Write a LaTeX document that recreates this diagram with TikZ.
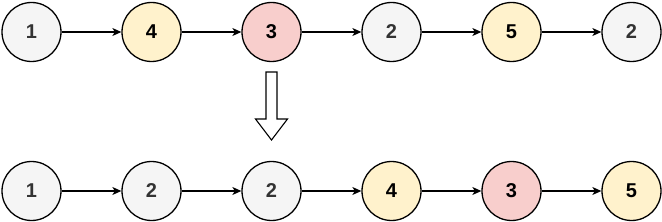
\documentclass[tikz,border=0pt]{standalone}
\usepackage{fontspec}
\setmainfont{Liberation Sans}
\usetikzlibrary{arrows.meta}
\definecolor{gfill}{HTML}{F5F5F5}
\definecolor{yfill}{HTML}{FFF2CC}
\definecolor{rfill}{HTML}{F8CECC}
\definecolor{gtext}{HTML}{333333}
\newcommand{\digfont}{\fontsize{20pt}{24pt}\selectfont\bfseries}
\tikzset{
  nd/.style={circle,draw=black,line width=1.3pt,minimum size=59pt,inner sep=0pt,
    font=\digfont},
  gnode/.style={nd,fill=gfill,text=gtext},
  ynode/.style={nd,fill=yfill,text=black},
  rnode/.style={nd,fill=rfill,text=black},
  link/.style={line width=1.1pt,-{Stealth[length=9pt,width=8pt,inset=2.5pt]}},
}
\begin{document}
\begin{tikzpicture}[x=1pt,y=-1pt]
\useasboundingbox (0,0) rectangle (662,222);
\node[gnode] (a1) at (31.5,32) {1};
\node[ynode] (a2) at (151.5,32) {4};
\node[rnode] (a3) at (271.5,32) {3};
\node[gnode] (a4) at (391.5,32) {2};
\node[ynode] (a5) at (511.5,32) {5};
\node[gnode] (a6) at (631.5,32) {2};
\node[gnode] (b1) at (31.5,191) {1};
\node[gnode] (b2) at (151.5,191) {2};
\node[gnode] (b3) at (271.5,191) {2};
\node[ynode] (b4) at (391.5,191) {4};
\node[rnode] (b5) at (511.5,191) {3};
\node[ynode] (b6) at (631.5,191) {5};
\foreach \i/\j in {1/2,2/3,3/4,4/5,5/6}{
  \draw[link] (a\i) -- (a\j);
  \draw[link] (b\i) -- (b\j);
}
\draw[line width=1.1pt,fill=white,line join=miter]
  (266,72) -- (277,72) -- (277,119) -- (287.5,119) -- (271.5,140) -- (255.5,119) -- (266,119) -- cycle;
\end{tikzpicture}
\end{document}
